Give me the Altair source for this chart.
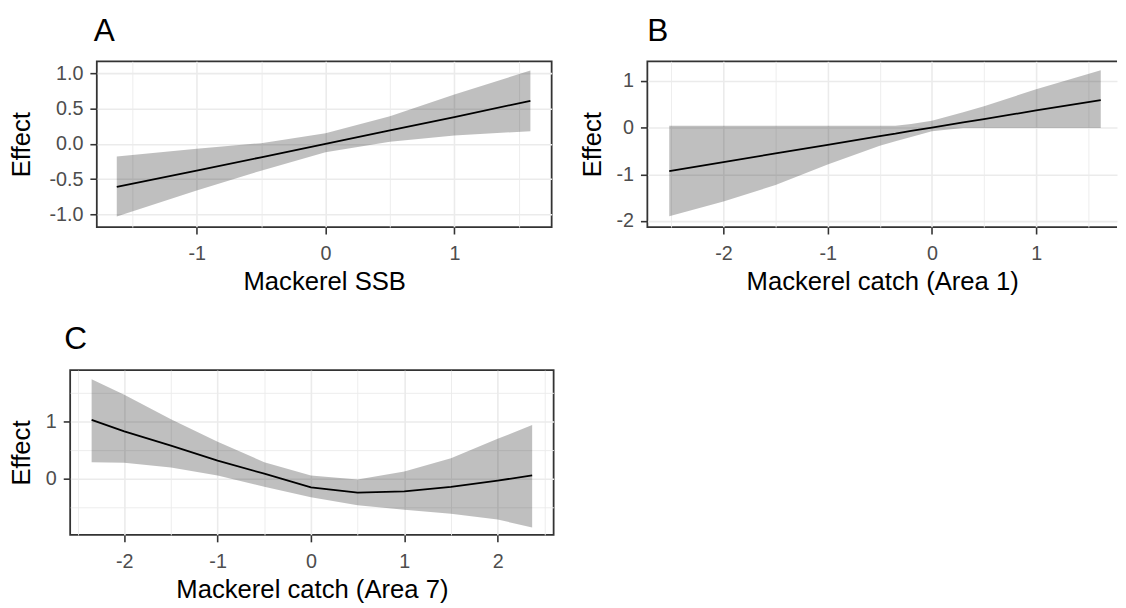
import json
import altair as alt
import pandas as pd

# ---------------- data ----------------
# Panel A: Mackerel SSB
a_x = [-1.62, -1.0, -0.5, 0.0, 0.5, 1.0, 1.59]
a_fit = [-0.61, -0.38, -0.19, 0.0, 0.19, 0.38, 0.61]
a_lo = [-1.03, -0.66, -0.38, -0.12, 0.03, 0.12, 0.18]
a_hi = [-0.18, -0.07, 0.01, 0.15, 0.39, 0.70, 1.04]

# Panel B: Mackerel catch (Area 1)
b_x = [-2.52, -2.0, -1.5, -1.0, -0.5, -0.35, -0.2, 0.0, 0.3, 0.5, 1.0, 1.62]
b_fit = [-0.93, -0.74, -0.55, -0.37, -0.18, -0.13, -0.07, 0.0, 0.11, 0.18, 0.37, 0.59]
b_lo = [-1.90, -1.58, -1.23, -0.79, -0.39, -0.29, -0.20, -0.08, -0.01, -0.01, -0.01, -0.01]
b_hi = [0.04, 0.04, 0.04, 0.04, 0.04, 0.04, 0.08, 0.15, 0.33, 0.46, 0.82, 1.23]

# Panel C: Mackerel catch (Area 7)
c_x = [-2.35, -2.0, -1.5, -1.0, -0.5, 0.0, 0.5, 1.0, 1.5, 2.0, 2.37]
c_fit = [1.03, 0.83, 0.58, 0.32, 0.09, -0.15, -0.24, -0.22, -0.14, -0.03, 0.06]
c_lo = [0.29, 0.28, 0.20, 0.06, -0.14, -0.32, -0.46, -0.54, -0.61, -0.71, -0.85]
c_hi = [1.74, 1.47, 1.04, 0.65, 0.29, 0.06, -0.01, 0.13, 0.36, 0.70, 0.94]

# tick values / labels
a_xticks, a_xlabels, a_xminor = [-1, 0, 1], ["-1", "0", "1"], [-1.5, -0.5, 0.5, 1.5]
a_yticks = [-1.0, -0.5, 0.0, 0.5, 1.0]
a_ylabels = ["-1.0", "-0.5", "0.0", "0.5", "1.0"]
a_yminor = [-0.75, -0.25, 0.25, 0.75]

b_xticks, b_xlabels, b_xminor = [-2, -1, 0, 1], ["-2", "-1", "0", "1"], [-2.5, -1.5, -0.5, 0.5, 1.5]
b_yticks, b_ylabels, b_yminor = [-2, -1, 0, 1], ["-2", "-1", "0", "1"], [-1.5, -0.5, 0.5]

c_xticks, c_xlabels = [-2, -1, 0, 1, 2], ["-2", "-1", "0", "1", "2"]
c_xminor = [-2.5, -1.5, -0.5, 0.5, 1.5, 2.5]
c_yticks, c_ylabels, c_yminor = [0, 1], ["0", "1"], [-0.5, 0.5, 1.5]

FONT = "Liberation Sans"


def make_axis(major, labels, minor, title, is_x, title_pad=None):
    vals = sorted(major + minor)
    maj = json.dumps(major)
    labs = json.dumps(labels)
    test = f"indexof({maj}, datum.value) >= 0"
    if title_pad is None:
        title_pad = 5 if is_x else 11
    return alt.Axis(
        values=vals,
        title=title,
        labelExpr=f"{test} ? {labs}[indexof({maj}, datum.value)] : ''",
        tickOpacity={"condition": {"test": test, "value": 1}, "value": 0},
        gridWidth={"condition": {"test": test, "value": 1.6}, "value": 0.9},
        labelPadding=10 if is_x else 7,
        titlePadding=title_pad,
    )


def panel(x, fit, lo, hi, xdom, ydom, xaxis, yaxis, w, h, letter, dx, view=None):
    df = pd.DataFrame({"x": x, "fit": fit, "lo": lo, "hi": hi})
    base = alt.Chart(df)
    band = base.mark_area(color="#000000", opacity=0.25).encode(
        x=alt.X("x:Q", scale=alt.Scale(domain=xdom, nice=False, zero=False), axis=xaxis),
        y=alt.Y("lo:Q", scale=alt.Scale(domain=ydom, nice=False, zero=False), axis=yaxis),
        y2="hi:Q",
    )
    line = base.mark_line(color="black", strokeWidth=1.8).encode(x="x:Q", y="fit:Q")
    props = dict(
        width=w,
        height=h,
        title=alt.TitleParams(
            text=letter, anchor="start", frame="group", fontSize=32, font=FONT,
            fontWeight="normal", color="black", offset=14, dx=dx,
        ),
    )
    if view is not None:
        props["view"] = view
    return alt.layer(band, line).properties(**props)


chart_a = panel(
    a_x, a_fit, a_lo, a_hi, [-1.775, 1.755], [-1.18, 1.17],
    make_axis(a_xticks, a_xlabels, a_xminor, "Mackerel SSB", True),
    make_axis(a_yticks, a_ylabels, a_yminor, "Effect", False, title_pad=15),
    461, 168, "A", -3,
)

b_w, b_h = 476, 168
chart_b = panel(
    b_x, b_fit, b_lo, b_hi, [-2.73, 1.776], [-2.13, 1.42],
    make_axis(b_xticks, b_xlabels, b_xminor, "Mackerel catch (Area 1)", True),
    make_axis(b_yticks, b_ylabels, b_yminor, "Effect", False),
    b_w, b_h, "B", 0,
    view=alt.ViewBackground(stroke="#333333", strokeWidth=1.8, strokeDash=[b_w, b_h, b_w + b_h + 50]),
)

chart_c = panel(
    c_x, c_fit, c_lo, c_hi, [-2.58, 2.6], [-0.98, 1.9],
    make_axis(c_xticks, c_xlabels, c_xminor, "Mackerel catch (Area 7)", True),
    make_axis(c_yticks, c_ylabels, c_yminor, "Effect", False),
    490, 167, "C", -6,
)

# invisible 1px spacer: makes each row start flush at the left edge
spacer = (
    alt.Chart(pd.DataFrame({"s": [0]}))
    .mark_rect(opacity=0)
    .encode(x=alt.value(0), x2=alt.value(1), y=alt.value(0), y2=alt.value(1))
    .properties(width=1, height=1, view=alt.ViewBackground(stroke="transparent"))
)

top_row = alt.hconcat(spacer, alt.hconcat(chart_a, chart_b, spacing=26), spacing=0)
bottom_row = alt.hconcat(spacer, chart_c, spacing=0)

chart = (
    alt.vconcat(top_row, bottom_row, spacing=28)
    .properties(padding={"left": -4, "top": 2, "right": 0, "bottom": 0}, background="white")
    .configure_view(stroke="#333333", strokeWidth=1.8)
    .configure_axis(
        domain=False,
        grid=True,
        gridColor="#EBEBEB",
        tickColor="#333333",
        tickWidth=1.6,
        tickSize=7,
        labelFont=FONT,
        labelFontSize=20,
        labelColor="#4D4D4D",
        labelFlush=False,
        labelOverlap=False,
        titleFont=FONT,
        titleFontSize=26,
        titleFontWeight="normal",
        titleColor="#000000",
    )
)

chart.save("out.html", embed_options={"renderer": "svg", "actions": False})
